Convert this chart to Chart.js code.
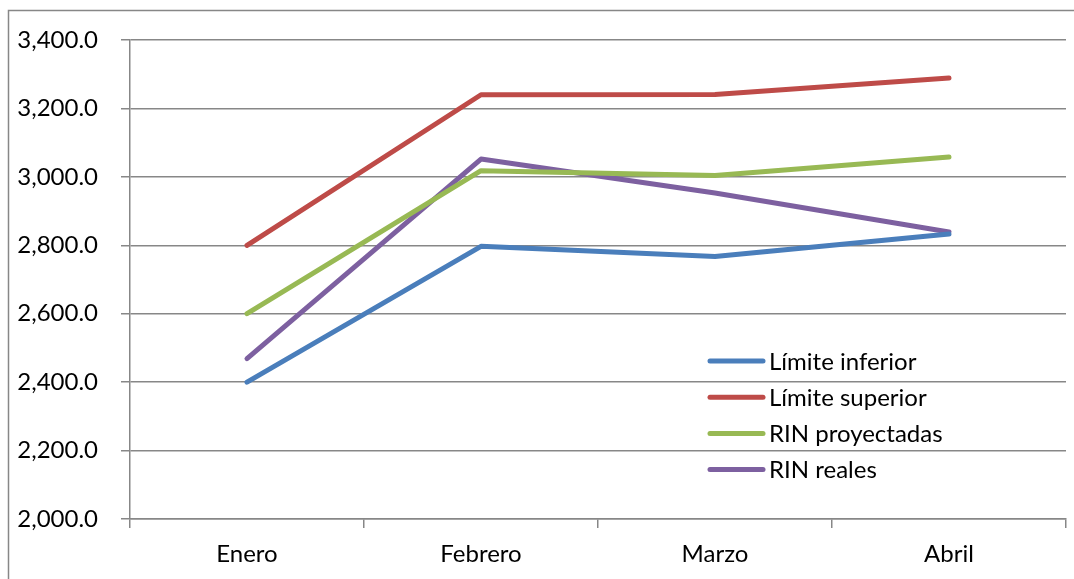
<!DOCTYPE html>
<html>
<head>
<meta charset="utf-8">
<script src="https://cdn.jsdelivr.net/npm/chart.js@4"></script>
<style>
  html, body { margin: 0; padding: 0; background: #fff; }
  #wrap { width: 1074px; height: 579px; position: relative; }
</style>
</head>
<body>
<div id="wrap"><canvas id="c" width="1074" height="579"></canvas></div>
<script>
// Months on the category axis
const months = ['Enero', 'Febrero', 'Marzo', 'Abril'];

// Series values (millones)
const limiteInferior = [2400, 2797, 2767, 2833];
const limiteSuperior = [2800, 3240, 3241, 3289];
const rinProyectadas = [2600, 3018, 3004, 3058];
const rinReales      = [2469, 3052, 2953, 2839];

// Value axis range
const yMin = 2000, yMax = 3400, yStep = 200;

const seriesNames  = ['Límite inferior', 'Límite superior', 'RIN proyectadas', 'RIN reales'];
const seriesColors = ['#4A7EBB', '#BE4B48', '#98B954', '#7D60A0'];
const seriesValues = [limiteInferior, limiteSuperior, rinProyectadas, rinReales];

const FONT = 'Lato, "Open Sans", sans-serif';
const GRID = '#878787';

// Outer frame of the chart (left and top edges)
const framePlugin = {
  id: 'frame',
  beforeDraw(chart) {
    const ctx = chart.ctx;
    ctx.save();
    ctx.strokeStyle = GRID;
    ctx.lineWidth = 1.5;
    ctx.beginPath();
    ctx.moveTo(8.5, chart.height + 2);
    ctx.lineTo(8.5, 10.5);
    ctx.lineTo(chart.width + 2, 10.5);
    ctx.stroke();
    ctx.restore();
  }
};

// Legend drawn inside the plot area
const innerLegend = {
  id: 'innerLegend',
  afterDraw(chart) {
    const ctx = chart.ctx;
    const x0 = 710, x1 = 763, tx = 769;
    const y0 = 361, dy = 36.2;
    ctx.save();
    ctx.font = '24px ' + FONT;
    ctx.textBaseline = 'middle';
    ctx.textAlign = 'left';
    chart.data.datasets.forEach((ds, i) => {
      const y = y0 + i * dy;
      ctx.strokeStyle = ds.borderColor;
      ctx.lineWidth = 5;
      ctx.lineCap = 'round';
      ctx.beginPath();
      ctx.moveTo(x0, y);
      ctx.lineTo(x1, y);
      ctx.stroke();
      ctx.fillStyle = '#000';
      ctx.fillText(ds.label, tx, y + 1);
    });
    ctx.restore();
  }
};

new Chart(document.getElementById('c'), {
  type: 'line',
  data: {
    labels: months,
    datasets: seriesNames.map((name, i) => ({
      label: name,
      data: seriesValues[i],
      borderColor: seriesColors[i],
      backgroundColor: seriesColors[i],
      borderWidth: 5,
      borderCapStyle: 'round',
      borderJoinStyle: 'round',
      pointRadius: 0,
      pointHoverRadius: 0,
      tension: 0,
      fill: false
    }))
  },
  options: {
    responsive: false,
    animation: false,
    devicePixelRatio: 1,
    layout: { padding: { left: 0, top: 40, right: 8, bottom: 0 } },
    plugins: {
      legend: { display: false },
      tooltip: { enabled: false }
    },
    scales: {
      x: {
        type: 'category',
        offset: true,
        afterFit(scale) { scale.height = 60; },
        grid: {
          offset: true,
          drawOnChartArea: false,
          drawTicks: true,
          tickLength: 9,
          color: GRID,
          lineWidth: 1.5
        },
        border: { display: true, color: GRID, width: 1.5 },
        ticks: {
          color: '#000',
          font: { family: FONT, size: 24 },
          padding: 12,
          maxRotation: 0
        }
      },
      y: {
        min: yMin,
        max: yMax,
        afterFit(scale) { scale.width = 130; },
        grid: {
          color: GRID,
          lineWidth: 1.5,
          tickLength: 9,
          drawTicks: true
        },
        border: { display: true, color: GRID, width: 1.5 },
        ticks: {
          stepSize: yStep,
          color: '#000',
          font: { family: FONT, size: 24 },
          padding: 23,
          callback: v => Number(v).toLocaleString('en-US', { minimumFractionDigits: 1, maximumFractionDigits: 1 })
        }
      }
    }
  },
  plugins: [framePlugin, innerLegend]
});
</script>
</body>
</html>
